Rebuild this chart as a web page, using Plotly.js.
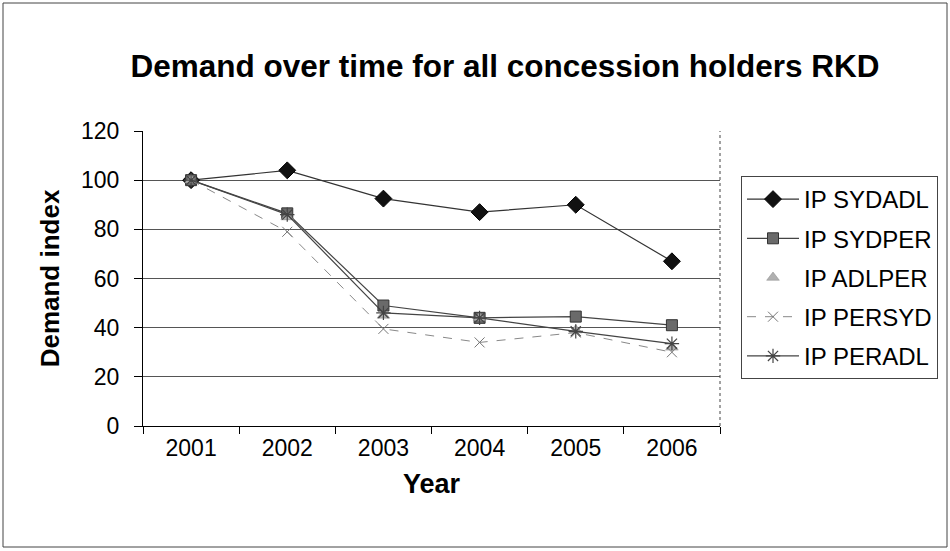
<!DOCTYPE html>
<html>
<head>
<meta charset="utf-8">
<script src="https://cdn.plot.ly/plotly-3.0.1.min.js"></script>
<style>
  html, body { margin: 0; padding: 0; background: #ffffff; }
  #chart { width: 950px; height: 551px; }
</style>
</head>
<body>
<div id="chart"></div>
<script>
// Demand index per year (2001 = 100)
const years = ['2001', '2002', '2003', '2004', '2005', '2006'];
const seriesNames = ['IP SYDADL', 'IP SYDPER', 'IP ADLPER', 'IP PERSYD', 'IP PERADL'];
const sydadl = [100, 104, 92.5, 87, 90, 67];
const sydper = [100, 86.5, 49, 44, 44.5, 41];
const adlper = [100, 85, 45, 44, 39, 32];
const persyd = [100, 79, 39.5, 34, 38, 30];
const peradl = [100, 86, 46, 44, 38.5, 33.5];
const yTicks = [0, 20, 40, 60, 80, 100, 120];

const font = 'Liberation Sans, Arial, sans-serif';

// plot area in pixels
const W = 950, H = 551;
const M = { l: 143, r: 230, t: 131, b: 125 };
const pw = W - M.l - M.r, ph = H - M.t - M.b;
const px = x => (x - M.l) / pw;
const py = y => (H - M.b - y) / ph;

function trace(name, y, mode, marker, line, group) {
  const t = { type: 'scatter', mode: mode, name: name, x: years, y: y,
              marker: marker, legendgroup: group, cliponaxis: false };
  if (line) t.line = line;
  return t;
}

const data = [
  trace(seriesNames[0], sydadl, 'lines+markers',
        { symbol: 'diamond', size: 13, color: '#111', line: { color: '#000', width: 1 } },
        { color: '#333', width: 1.2 }, 'g1'),
  trace(seriesNames[1], sydper, 'lines+markers',
        { symbol: 'square', size: 11, color: '#6a6a6a', line: { color: '#333', width: 1 } },
        { color: '#444', width: 1.2 }, 'g2'),
  trace(seriesNames[2], adlper, 'markers',
        { symbol: 'triangle-up', size: 11, color: '#b0b0b0', line: { color: '#888', width: 0.5 } },
        null, 'g3'),
  trace(seriesNames[3], persyd, 'lines+markers',
        { symbol: 'x-thin-open', size: 10, color: '#777', line: { color: '#777', width: 1 } },
        { color: '#888', width: 1, dash: 'dash' }, 'g4'),
  trace(seriesNames[4], peradl, 'lines+markers',
        { symbol: 'asterisk-open', size: 12, color: '#444', line: { color: '#444', width: 1.2 } },
        { color: '#444', width: 1.2 }, 'g5')
];

const layout = {
  width: W, height: H,
  margin: M,
  paper_bgcolor: '#ffffff',
  plot_bgcolor: '#ffffff',
  font: { family: font, color: '#000', size: 23 },
  showlegend: true,
  title: {
    text: '<b>Demand over time for all concession holders RKD</b>',
    font: { family: font, size: 31.5, color: '#000' },
    x: 505 / W, xref: 'container', xanchor: 'center',
    y: 1 - 66 / H, yref: 'container', yanchor: 'middle'
  },
  xaxis: {
    type: 'category',
    categoryorder: 'array', categoryarray: years,
    range: [-0.5, 5.5],
    tickson: 'boundaries',
    ticks: 'outside', ticklen: 7, tickcolor: '#000', tickwidth: 1,
    showline: true, linecolor: '#000', linewidth: 1,
    showgrid: false, zeroline: false,
    tickfont: { family: font, size: 23, color: '#000' },
    ticklabelstandoff: 1,
    title: { text: '<b>Year</b>', font: { family: font, size: 27, color: '#000' }, standoff: 14 },
    fixedrange: true
  },
  yaxis: {
    range: [0, 120],
    tickvals: yTicks,
    ticktext: yTicks.map(String),
    ticks: 'outside', ticklen: 8, tickcolor: '#000', tickwidth: 1,
    showline: true, linecolor: '#000', linewidth: 1,
    showgrid: true, gridcolor: '#555', gridwidth: 1,
    zeroline: false,
    tickfont: { family: font, size: 23, color: '#000' },
    ticklabelstandoff: 10,
    title: { text: '<b>Demand index</b>', font: { family: font, size: 26, color: '#000' }, standoff: 13 },
    fixedrange: true
  },
  legend: {
    x: px(741), xanchor: 'left',
    y: py(176), yanchor: 'top',
    bgcolor: '#ffffff',
    bordercolor: '#444', borderwidth: 1,
    font: { family: font, size: 24, color: '#000' },
    traceorder: 'grouped',
    tracegroupgap: 5,
    itemwidth: 52
  },
  shapes: [
    // dotted right edge of the plot area
    { type: 'line', xref: 'paper', yref: 'paper', x0: 1, x1: 1, y0: 0, y1: 1,
      line: { color: '#444', width: 1, dash: 'dot' } },
    // chart frame
    { type: 'rect', xref: 'paper', yref: 'paper',
      x0: px(3), x1: px(947), y0: py(547), y1: py(3),
      line: { color: '#444', width: 1 }, fillcolor: 'rgba(0,0,0,0)', layer: 'below' }
  ]
};

Plotly.newPlot('chart', data, layout, { displayModeBar: false, staticPlot: true });
</script>
</body>
</html>
